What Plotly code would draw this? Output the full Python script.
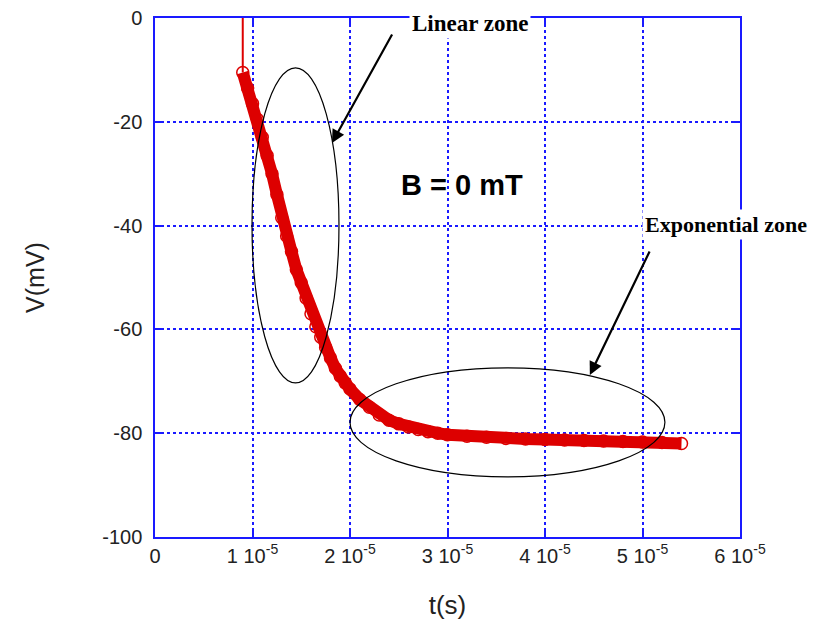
import plotly.graph_objects as go

# time in units of 1e-5 s, voltage in mV
t_e5 = [0.90, 0.95, 1.00, 1.05, 1.10, 1.15, 1.20, 1.25, 1.30, 1.35, 1.40, 1.45,
        1.50, 1.55, 1.60, 1.65, 1.70, 1.75, 1.80, 1.85, 1.90, 1.95, 2.00, 2.10,
        2.20, 2.30, 2.40, 2.50, 2.60, 2.70, 2.80, 2.90, 3.00, 3.20, 3.40, 3.60,
        3.80, 4.00, 4.20, 4.40, 4.60, 4.80, 5.00, 5.20, 5.40]
v_mV = [-10.5, -13.5, -16.5, -19.5, -23.0, -26.5, -30.0, -34.0, -38.5, -42.0, -45.0, -48.5,
        -51.0, -54.0, -57.0, -59.5, -61.5, -63.5, -65.5, -67.5, -69.0, -70.3, -71.5, -73.5,
        -75.0, -76.5, -77.5, -78.2, -78.8, -79.3, -79.7, -80.0, -80.3, -80.6, -80.8, -81.0,
        -81.1, -81.2, -81.3, -81.4, -81.5, -81.6, -81.7, -81.8, -82.0]
step_t = [0.90, 0.90]
step_v = [0.0, -10.5]

tick_vals = [0, 1, 2, 3, 4, 5, 6]
tick_text = ["0", "1 10<sup>-5</sup>", "2 10<sup>-5</sup>", "3 10<sup>-5</sup>",
             "4 10<sup>-5</sup>", "5 10<sup>-5</sup>", "6 10<sup>-5</sup>"]
y_ticks = [0, -20, -40, -60, -80, -100]

S = 1e-5
red = "#dd0000"
blue = "#1a1aff"
sans = "Liberation Sans, Arial, sans-serif"
serif = "Liberation Serif, Times New Roman, serif"

fig = go.Figure()
fig.add_trace(go.Scatter(x=[t * S for t in step_t], y=step_v, mode="lines",
                         line=dict(color=red, width=2), showlegend=False))
fig.add_trace(go.Scatter(x=[t * S for t in t_e5], y=v_mV, mode="lines+markers",
                         line=dict(color=red, width=12),
                         marker=dict(symbol="circle-open", size=12, color=red, line=dict(width=1.5)),
                         showlegend=False))

# ellipses
fig.add_shape(type="circle", xref="x", yref="y", x0=0.995e-5, x1=1.887e-5, y0=-9.6, y1=-70.3,
              line=dict(color="black", width=1.2))
fig.add_shape(type="circle", xref="x", yref="y", x0=2.0e-5, x1=5.23e-5, y0=-67.4, y1=-88.4,
              line=dict(color="black", width=1.2))

# arrows
fig.add_annotation(x=1.815e-5, y=-24.1, ax=2.44e-5, ay=-2.9, xref="x", yref="y",
                   axref="x", ayref="y", text="", showarrow=True, arrowhead=2,
                   arrowsize=1.2, arrowwidth=2.2, arrowcolor="black")
fig.add_annotation(x=4.46e-5, y=-68.8, ax=5.08e-5, ay=-44.7, xref="x", yref="y",
                   axref="x", ayref="y", text="", showarrow=True, arrowhead=2,
                   arrowsize=1.2, arrowwidth=2.2, arrowcolor="black")

fig.add_annotation(x=3.23e-5, y=-1.0, xref="x", yref="y", text="<b>Linear zone</b>",
                   showarrow=False, font=dict(family=serif, size=23, color="black"),
                   bgcolor="white", borderpad=2)
fig.add_annotation(x=5.86e-5, y=-39.7, xref="x", yref="y", text="<b>Exponential zone</b>",
                   showarrow=False, font=dict(family=serif, size=22, color="black"),
                   bgcolor="white", borderpad=2)
fig.add_annotation(x=3.15e-5, y=-32.2, xref="x", yref="y", text="<b>B = 0 mT</b>",
                   showarrow=False, font=dict(family=sans, size=29, color="black"))

axis_common = dict(showline=True, linecolor=blue, linewidth=1.5, mirror="ticks",
                   ticks="inside", tickcolor=blue, ticklen=6, tickwidth=1.5,
                   showgrid=True, gridcolor=blue, gridwidth=2, griddash="dot",
                   zeroline=False, automargin=False, ticklabeloverflow="allow")

fig.update_xaxes(range=[0, 6e-5], tickvals=[v * S for v in tick_vals], ticktext=tick_text,
                 tickfont=dict(family=sans, size=20, color="#222"),
                 title=dict(text="t(s)", font=dict(family=sans, size=26, color="#222"),
                            standoff=30),
                 **axis_common)
fig.update_yaxes(range=[-100, 0], tickvals=y_ticks,
                 ticktext=[str(v) for v in y_ticks],
                 tickfont=dict(family=sans, size=20, color="#222"),
                 ticklabelstandoff=7,
                 title=dict(text="V(mV)", font=dict(family=sans, size=25, color="#222"),
                            standoff=50),
                 **axis_common)

# page body has an 8px margin, so shift the plot area up/left by 8px
fig.update_layout(width=818, height=628, margin=dict(l=147, r=86, t=10, b=99),
                  plot_bgcolor="white", paper_bgcolor="white")

fig.write_html("out.html")
